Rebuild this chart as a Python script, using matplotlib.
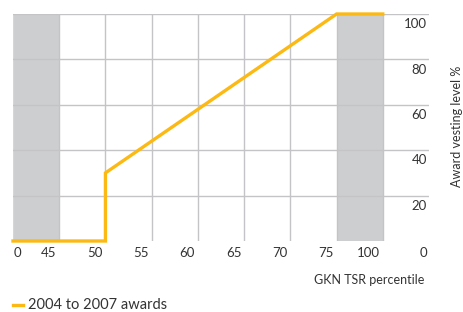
import numpy as np
import matplotlib
matplotlib.use('Agg')
import matplotlib.pyplot as plt
from matplotlib.transforms import blended_transform_factory, offset_copy

# Tick categories on the percentile axis (equally spaced columns)
percentile_ticks = [0, 45, 50, 55, 60, 65, 70, 75, 100]
percentile_labels = ['0', '45', '50', '55', '60', '65', '70', '75', '100']

# Vesting schedule (percentile -> award vesting %)
line_percentile = [0, 50, 50, 75, 100]
line_vesting = [0, 0, 30, 100, 100]

vesting_ticks = [0, 20, 40, 60, 80, 100]
vesting_labels = ['0', '20', '40', '60', '80', '100']

# Shaded ranges (no vesting below 45th / full vesting above 75th)
shade_ranges = [(0, 45), (75, 100)]

ORANGE = '#fdb913'
GRID = '#c4c4c6'
SHADE = '#cdced0'
TEXT = '#333333'

plt.rcParams['font.family'] = ['Lato', 'DejaVu Sans']

positions = np.arange(len(percentile_ticks))


def to_pos(p):
    return np.interp(p, percentile_ticks, positions)


fig = plt.figure(figsize=(4.63, 3.12), dpi=100)
ax = fig.add_axes([13 / 463, 71 / 312, 416 / 463, 227 / 312])
ax.set_xlim(0, len(percentile_ticks))
ax.set_ylim(0, 100)

for lo, hi in shade_ranges:
    ax.axvspan(to_pos(lo), to_pos(hi), color=SHADE, lw=0, zorder=0)

for p in positions:
    ax.axvline(p, color=GRID if p > 0 else '#d6d6d8', lw=1.0, zorder=1)
for v in vesting_ticks[1:]:
    ax.axhline(v, color=GRID, lw=1.0, zorder=1)

ax.plot(to_pos(line_percentile), line_vesting, color=ORANGE, lw=2.4,
        solid_joinstyle='miter', zorder=3, clip_on=False)

ax.set_xticks([])
ax.set_yticks([])
for s in ax.spines.values():
    s.set_visible(False)

# x tick labels sit just left of each gridline
trans_x = blended_transform_factory(ax.transData, ax.transAxes)
for p, lab in zip(positions, percentile_labels):
    if p == 0:
        t = offset_copy(trans_x, fig=fig, x=0.5, y=-4, units='points')
        ax.text(p, 0, lab, transform=t, ha='left', va='top', fontsize=9.5, color=TEXT)
    else:
        t = offset_copy(trans_x, fig=fig, x=-2, y=-4, units='points')
        ax.text(p, 0, lab, transform=t, ha='right', va='top', fontsize=9.5, color=TEXT)

# y tick labels sit under each gridline at the right edge
trans_y = blended_transform_factory(ax.transAxes, ax.transData)
for v, lab in zip(vesting_ticks, vesting_labels):
    t = offset_copy(trans_y, fig=fig, x=-1.5, y=-3 if v else -4, units='points')
    ax.text(1, v, lab, transform=t, ha='right', va='top', fontsize=9.5, color=TEXT)

fig.text(424 / 463, 1 - 280 / 312, 'GKN TSR percentile', ha='right', va='center',
         fontsize=9, color=TEXT)
fig.text(457 / 463, 1 - 126 / 312, 'Award vesting level %', rotation=90,
         ha='center', va='center', fontsize=9, color=TEXT)

# legend entry
fig.add_artist(plt.Line2D([13 / 463, 23 / 463], [1 - 305 / 312] * 2,
                          color=ORANGE, lw=2.4, transform=fig.transFigure))
fig.text(28 / 463, 1 - 305 / 312, '2004 to 2007 awards', ha='left', va='center',
         fontsize=10.5, color=TEXT)

fig.savefig('out.png', dpi=100)
